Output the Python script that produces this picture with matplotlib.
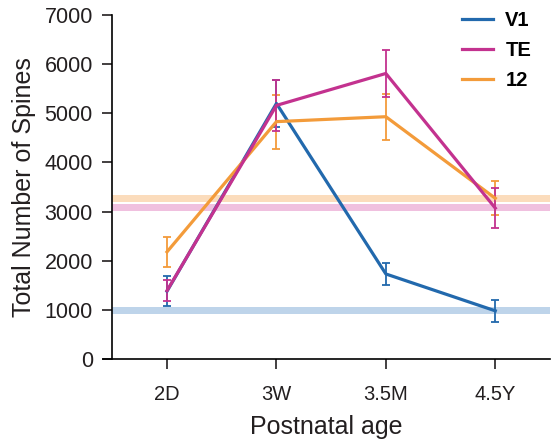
import numpy as np
import matplotlib.pyplot as plt

plt.rcParams['font.family'] = ['Liberation Sans', 'DejaVu Sans']

ages = ['2D', '3W', '3.5M', '4.5Y']
v1 = [1380, 5200, 1730, 980]
v1_err = [310, 480, 230, 230]
te = [1390, 5160, 5810, 3070]
te_err = [220, 520, 480, 410]
a12 = [2180, 4830, 4930, 3270]
a12_err = [310, 550, 470, 350]
# adult reference levels (shaded bands)
band_v1 = 985
band_te = 3080
band_12 = 3260

c_v1 = '#2269ad'
c_te = '#c3328f'
c_12 = '#f39b3a'
txt = '#231f20'

fig = plt.figure(figsize=(5.51, 4.46), dpi=100)
ax = fig.add_axes([103 / 551, 0.1951, 447 / 551, 0.7713])

x = np.arange(len(ages))

for y, c in [(band_12, '#fbdcbc'), (band_te, '#f0c0df'), (band_v1, '#bed4ea')]:
    ax.fill_between([-0.5, 3.5], y - 75, y + 75, color=c, lw=0, zorder=1)

for vals, errs, c, lab in [(v1, v1_err, c_v1, 'V1'), (a12, a12_err, c_12, '12'),
                           (te, te_err, c_te, 'TE')]:
    ax.errorbar(x, vals, yerr=errs, color=c, lw=2.3, elinewidth=1.3,
                capsize=3, capthick=1.3, label=lab, zorder=3)

ax.set_xlim(-0.585, 3.5)
ax.set_ylim(0, 7000)
ax.set_xticks(x)
ax.set_xticklabels(ages)
ax.set_yticks(range(0, 7001, 1000))
ax.spines['top'].set_visible(False)
ax.spines['right'].set_visible(False)
ax.spines['left'].set_position(('data', -0.5))
ax.spines['left'].set_linewidth(1.2)
ax.spines['bottom'].set_linewidth(1.2)
ax.tick_params(axis='both', length=7, width=1.2, colors=txt)
ax.tick_params(axis='y', labelsize=15.5, pad=7)
ax.tick_params(axis='x', labelsize=14.5, pad=12)
ax.set_xlabel('Postnatal age', fontsize=18, color=txt, labelpad=8)
ax.set_ylabel('Total Number of Spines', fontsize=18, color=txt)
ax.yaxis.set_label_coords(-0.15, 0.5)

h, l = ax.get_legend_handles_labels()
order = [l.index('V1'), l.index('TE'), l.index('12')]
leg = ax.legend([h[i][0] for i in order], [l[i] for i in order], loc='upper left',
                frameon=False, handlelength=1.55, handletextpad=0.6,
                labelspacing=0.55, borderpad=0, borderaxespad=0,
                prop={'weight': 'bold', 'size': 14.5},
                bbox_to_anchor=(462 / 551, 1 - 11 / 446),
                bbox_transform=fig.transFigure)

fig.savefig('out.png', dpi=100)
